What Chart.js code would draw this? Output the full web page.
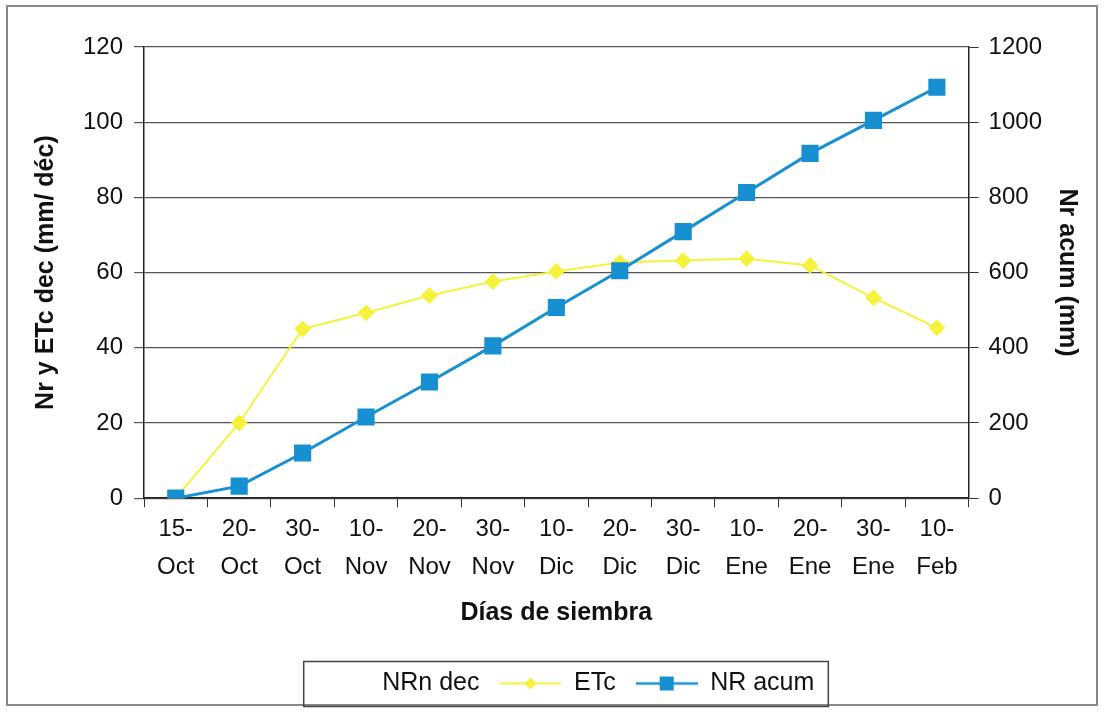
<!DOCTYPE html>
<html>
<head>
<meta charset="utf-8">
<script src="https://cdn.jsdelivr.net/npm/chart.js@4/dist/chart.umd.min.js"></script>
<style>
  body { margin: 0; background: #fff; }
  #graf { display: block; }
</style>
</head>
<body>
<canvas id="graf" width="1104" height="712"></canvas>
<script>
// datos
var fechas = [['15-','Oct'],['20-','Oct'],['30-','Oct'],['10-','Nov'],['20-','Nov'],['30-','Nov'],
  ['10-','Dic'],['20-','Dic'],['30-','Dic'],['10-','Ene'],['20-','Ene'],['30-','Ene'],['10-','Feb']];
var nrnDec = [];   // serie en blanco, no se ve en el grafico
var etc = [0, 20, 45, 49.3, 53.9, 57.6, 60.3, 62.7, 63.2, 63.7, 61.9, 53.3, 45.3];
var nrAcum = [0, 32, 120, 216, 309, 405, 507, 605, 709, 813, 917, 1005, 1093];
var ticksIzq = [0, 20, 40, 60, 80, 100, 120];
var ticksDer = [0, 200, 400, 600, 800, 1000, 1200];

var amarillo = '#f4f23a';
var azul = '#1790d2';

// icono de leyenda: linea con marcador
function iconoLeyenda(color, forma) {
  var c = document.createElement('canvas');
  c.width = 62; c.height = 18;
  var g = c.getContext('2d');
  if (!color) return c;
  g.strokeStyle = color;
  g.lineWidth = forma == 'rect' ? 2.5 : 2;
  g.beginPath(); g.moveTo(0, 9); g.lineTo(62, 9); g.stroke();
  g.fillStyle = color;
  if (forma == 'rect') {
    g.fillRect(24, 2, 14, 14);
  } else {
    g.beginPath(); g.moveTo(31, 3); g.lineTo(37, 9); g.lineTo(31, 15); g.lineTo(25, 9); g.closePath(); g.fill();
  }
  return c;
}

var marco = {
  id: 'marco',
  afterDraw: function(chart) {
    var ctx = chart.ctx;
    ctx.save();
    ctx.strokeStyle = '#888';
    ctx.lineWidth = 2;
    ctx.strokeRect(7, 6, 1090, 699);
    // recuadro de la leyenda
    var cajas = chart.legend.legendHitBoxes;
    if (cajas && cajas.length) {
      var izq = cajas[0].left - 4;
      var der = cajas[cajas.length - 1].left + cajas[cajas.length - 1].width + 14;
      var medio = cajas[0].top + cajas[0].height / 2;
      ctx.strokeStyle = '#444';
      ctx.lineWidth = 1.5;
      ctx.strokeRect(izq, medio - 22, der - izq, 45);
    }
    ctx.restore();
  }
};

var familia = "'Liberation Sans', Arial, sans-serif";
var fuente = { family: familia, size: 24 };
var fuenteTitulo = { family: familia, size: 25, weight: 'bold' };

var ctx = document.getElementById('graf').getContext('2d');
var grafico = new Chart(ctx, {
  type: 'line',
  data: {
    labels: fechas,
    datasets: [
      { label: 'NRn dec', data: nrnDec, borderColor: '#fff', backgroundColor: '#fff', pointRadius: 0, yAxisID: 'y' },
      { label: 'ETc', data: etc, borderColor: amarillo, backgroundColor: amarillo, borderWidth: 2,
        pointStyle: 'rectRot', pointRadius: 7, pointHoverRadius: 7, yAxisID: 'y', order: 2 },
      { label: 'NR acum', data: nrAcum, borderColor: azul, backgroundColor: azul, borderWidth: 3,
        pointStyle: 'rect', pointRadius: 10, pointHoverRadius: 10, yAxisID: 'y2', order: 1 }
    ]
  },
  options: {
    responsive: false,
    animation: false,
    layout: { padding: { left: 31, right: 13, top: 47, bottom: 6 } },
    plugins: {
      tooltip: { enabled: false },
      legend: {
        position: 'bottom',
        labels: {
          color: '#111',
          font: { family: familia, size: 25 },
          usePointStyle: true,
          pointStyleWidth: 62,
          padding: 20,
          generateLabels: function(chart) {
            var iconos = [iconoLeyenda(null), iconoLeyenda(amarillo, 'rectRot'), iconoLeyenda(azul, 'rect')];
            return chart.data.datasets.map(function(ds, i) {
              return { text: ds.label, pointStyle: iconos[i], datasetIndex: i, hidden: false,
                fillStyle: ds.backgroundColor, strokeStyle: ds.borderColor, lineWidth: 0, fontColor: '#111' };
            });
          }
        }
      }
    },
    scales: {
      x: {
        offset: true,
        grid: { offset: true, drawOnChartArea: false, drawTicks: true, tickLength: 9, color: '#333' },
        border: { color: '#222', width: 1.5 },
        ticks: { color: '#111', font: { family: familia, size: 24, lineHeight: 1.58 }, maxRotation: 0, autoSkip: false, padding: 3 },
        title: { display: true, text: 'Días de siembra', color: '#111', font: fuenteTitulo,
          padding: { top: 9, bottom: 23 } }
      },
      y: {
        position: 'left',
        min: 0, max: 120,
        afterBuildTicks: function(eje) { eje.ticks = ticksIzq.map(function(v) { return { value: v }; }); },
        grid: { color: '#555', lineWidth: 1.2, tickLength: 10 },
        border: { color: '#222', width: 1.5 },
        ticks: { color: '#111', font: fuente, padding: 11 },
        title: { display: true, text: 'Nr y ETc dec (mm/ déc)', color: '#111', font: fuenteTitulo,
          padding: { top: 0, bottom: 11 } }
      },
      y2: {
        position: 'right',
        min: 0, max: 1200,
        afterBuildTicks: function(eje) { eje.ticks = ticksDer.map(function(v) { return { value: v }; }); },
        grid: { drawOnChartArea: false, color: '#333', tickLength: 10 },
        border: { color: '#222', width: 1.5 },
        ticks: { color: '#111', font: fuente, padding: 10, callback: function(v) { return String(v); } },
        title: { display: true, text: 'Nr acum (mm)', color: '#111', font: fuenteTitulo,
          padding: { top: 9, bottom: 0 } }
      }
    }
  },
  plugins: [marco]
});
</script>
</body>
</html>
